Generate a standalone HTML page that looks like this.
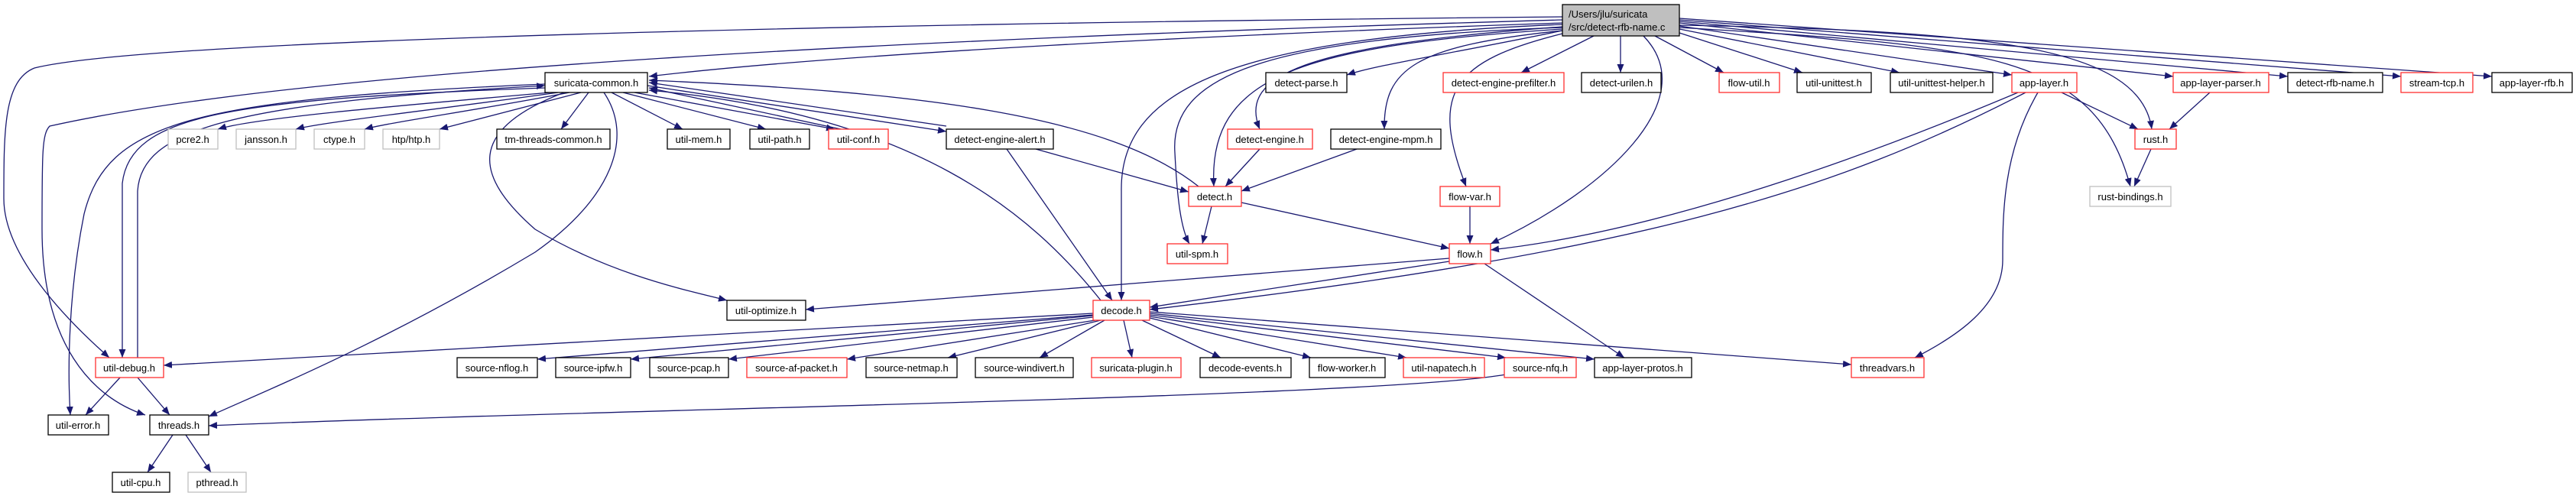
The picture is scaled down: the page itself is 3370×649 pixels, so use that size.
<!DOCTYPE html>
<html><head><meta charset="utf-8"><style>
html,body{margin:0;padding:0;background:#fff;}
svg{display:block;}
text{font-family:"Liberation Sans",Arial,sans-serif;font-size:13px;fill:#000;}
.e{fill:none;stroke:#191970;stroke-width:1.3;marker-end:url(#a);}
.n{fill:#fff;stroke:#000;stroke-width:1.3;}
.r{fill:#fff;stroke:#ff3030;stroke-width:1.3;}
.g{fill:#fff;stroke:#c0c0c0;stroke-width:1.3;}
</style></head><body>
<svg width="3370" height="649" viewBox="0 0 3370 649" xmlns="http://www.w3.org/2000/svg">
<defs><marker id="a" markerUnits="userSpaceOnUse" markerWidth="11" markerHeight="9" refX="11" refY="4.5" orient="auto"><path d="M0,0 L11,4.5 L0,9 z" fill="#191970"/></marker></defs>
<g>
<path class="e" d="M2044 22 C1200 30,200 50,45 89 C5 105,5 170,5 260 C5 340,100 430,143 468"/>
<path class="e" d="M2044 26 C1200 50,400 90,65 165 C55 175,55 200,55 300 C55 450,120 520,190 543"/>
<path class="e" d="M2044 30 C1600 45,1100 70,849 100"/>
<path class="e" d="M2044 40 C1900 70,1800 85,1762 98"/>
<path class="e" d="M2085 47 L1990 95"/>
<path class="e" d="M2120 47 L2120 95"/>
<path class="e" d="M2165 47 L2255 95"/>
<path class="e" d="M2197 43 L2358 95"/>
<path class="e" d="M2197 38 L2485 95"/>
<path class="e" d="M2197 34 L2632 98"/>
<path class="e" d="M2197 30 L2843 100"/>
<path class="e" d="M2197 28 L2993 100"/>
<path class="e" d="M2197 26 L3141 100"/>
<path class="e" d="M2197 24 L3260 100"/>
<path class="e" d="M2197 33 C2600 40,2800 60,2815 169"/>
<path class="e" d="M2197 36 C2600 60,2740 70,2787 244"/>
<path class="e" d="M2044 35 C1700 60,1620 100,1648 169"/>
<path class="e" d="M2044 40 C1850 60,1810 90,1811 169"/>
<path class="e" d="M2044 44 C1900 80,1870 120,1918 244"/>
<path class="e" d="M2150 47 C2230 130,2100 250,1950 319"/>
<path class="e" d="M2044 38 C1700 60,1580 100,1588 244"/>
<path class="e" d="M2044 36 C1650 50,1530 100,1537 200 C1540 260,1545 300,1556 319"/>
<path class="e" d="M2044 32 C1600 50,1465 120,1467 250 L1467 393"/>
<path class="e" d="M720 121 C500 140,330 155,285 169"/>
<path class="e" d="M730 121 C560 145,420 160,387 169"/>
<path class="e" d="M745 121 C620 145,510 160,477 169"/>
<path class="e" d="M760 121 L575 169"/>
<path class="e" d="M770 121 L734 169"/>
<path class="e" d="M800 121 L893 169"/>
<path class="e" d="M815 121 L1002 169"/>
<path class="e" d="M830 121 L1092 169"/>
<path class="e" d="M847 112 L1238 172"/>
<path class="e" d="M1238 165 L849 108"/>
<path class="e" d="M1100 169 L849 115"/>
<path class="e" d="M738 121 C610 170,620 230,700 300 C800 360,900 380,951 393"/>
<path class="e" d="M790 121 C830 180,800 260,700 330 C500 450,350 510,273 545"/>
<path class="e" d="M713 115 C300 130,170 150,160 240 L160 468"/>
<path class="e" d="M180 468 L180 250 C185 170,300 135,713 112"/>
<path class="e" d="M713 110 C250 130,140 160,110 280 C90 380,88 480,92 543"/>
<path class="e" d="M157 494 L112 543"/>
<path class="e" d="M180 494 L222 543"/>
<path class="e" d="M226 569 L193 618"/>
<path class="e" d="M243 569 L276 618"/>
<path class="e" d="M1355 195 L1555 251"/>
<path class="e" d="M1317 195 L1455 393"/>
<path class="e" d="M1568 244 C1450 150,1200 120,849 105"/>
<path class="e" d="M1440 393 C1350 280,1200 150,849 118"/>
<path class="e" d="M1648 195 L1603 244"/>
<path class="e" d="M1775 195 L1624 250"/>
<path class="e" d="M1585 270 L1573 319"/>
<path class="e" d="M1624 265 L1896 325"/>
<path class="e" d="M1923 270 L1923 319"/>
<path class="e" d="M1896 338 L1054 405"/>
<path class="e" d="M1896 342 L1504 402"/>
<path class="e" d="M1942 345 L2125 468"/>
<path class="e" d="M2640 121 C2500 180,2200 300,1950 327"/>
<path class="e" d="M2650 121 C2400 250,2150 330,1504 405"/>
<path class="e" d="M2697 121 L2797 169"/>
<path class="e" d="M2666 121 C2620 200,2620 280,2620 340 C2620 400,2560 440,2505 468"/>
<path class="e" d="M2891 121 L2838 169"/>
<path class="e" d="M2814 195 L2792 244"/>
<path class="e" d="M1430 410 L214 478"/>
<path class="e" d="M1430 412 L703 470"/>
<path class="e" d="M1430 413 L825 470"/>
<path class="e" d="M1430 415 L953 470"/>
<path class="e" d="M1433 419 L1108 470"/>
<path class="e" d="M1440 419 L1240 468"/>
<path class="e" d="M1445 419 L1360 468"/>
<path class="e" d="M1470 419 L1481 468"/>
<path class="e" d="M1494 419 L1597 468"/>
<path class="e" d="M1504 416 L1715 468"/>
<path class="e" d="M1504 414 L1840 468"/>
<path class="e" d="M1504 412 L1970 468"/>
<path class="e" d="M1504 410 L2086 470"/>
<path class="e" d="M1504 408 L2422 477"/>
<path class="e" d="M1970 490 C1800 520,800 535,273 557"/>
</g>
<g>
<rect x="2044" y="6" width="153" height="41" fill="#bfbfbf" stroke="#000" stroke-width="1.3"/>
<text x="2052" y="23">/Users/jlu/suricata</text>
<text x="2052" y="40">/src/detect-rfb-name.c</text>
</g>
<g text-anchor="middle">
<rect class="n" x="713" y="95" width="134" height="26"/><text x="780" y="113">suricata-common.h</text>
<rect class="n" x="1656" y="95" width="106" height="26"/><text x="1709" y="113">detect-parse.h</text>
<rect class="r" x="1888" y="95" width="158" height="26"/><text x="1967" y="113">detect-engine-prefilter.h</text>
<rect class="n" x="2069" y="95" width="104" height="26"/><text x="2121" y="113">detect-urilen.h</text>
<rect class="r" x="2249" y="95" width="79" height="26"/><text x="2288" y="113">flow-util.h</text>
<rect class="n" x="2351" y="95" width="97" height="26"/><text x="2399" y="113">util-unittest.h</text>
<rect class="n" x="2473" y="95" width="134" height="26"/><text x="2540" y="113">util-unittest-helper.h</text>
<rect class="r" x="2632" y="95" width="85" height="26"/><text x="2674" y="113">app-layer.h</text>
<rect class="r" x="2843" y="95" width="125" height="26"/><text x="2905" y="113">app-layer-parser.h</text>
<rect class="n" x="2993" y="95" width="124" height="26"/><text x="3055" y="113">detect-rfb-name.h</text>
<rect class="r" x="3141" y="95" width="94" height="26"/><text x="3188" y="113">stream-tcp.h</text>
<rect class="n" x="3260" y="95" width="105" height="26"/><text x="3312" y="113">app-layer-rfb.h</text>

<rect class="g" x="220" y="169" width="65" height="26"/><text x="252" y="187">pcre2.h</text>
<rect class="g" x="309" y="169" width="78" height="26"/><text x="348" y="187">jansson.h</text>
<rect class="g" x="411" y="169" width="66" height="26"/><text x="444" y="187">ctype.h</text>
<rect class="g" x="501" y="169" width="74" height="26"/><text x="538" y="187">htp/htp.h</text>
<rect class="n" x="650" y="169" width="148" height="26"/><text x="724" y="187">tm-threads-common.h</text>
<rect class="n" x="873" y="169" width="82" height="26"/><text x="914" y="187">util-mem.h</text>
<rect class="n" x="981" y="169" width="78" height="26"/><text x="1020" y="187">util-path.h</text>
<rect class="r" x="1084" y="169" width="78" height="26"/><text x="1123" y="187">util-conf.h</text>
<rect class="n" x="1238" y="169" width="140" height="26"/><text x="1308" y="187">detect-engine-alert.h</text>
<rect class="r" x="1606" y="169" width="111" height="26"/><text x="1661" y="187">detect-engine.h</text>
<rect class="n" x="1741" y="169" width="144" height="26"/><text x="1813" y="187">detect-engine-mpm.h</text>
<rect class="r" x="2793" y="169" width="54" height="26"/><text x="2820" y="187">rust.h</text>

<rect class="r" x="1555" y="244" width="69" height="26"/><text x="1589" y="262">detect.h</text>
<rect class="r" x="1884" y="244" width="78" height="26"/><text x="1923" y="262">flow-var.h</text>
<rect class="g" x="2734" y="244" width="106" height="26"/><text x="2787" y="262">rust-bindings.h</text>

<rect class="r" x="1527" y="319" width="79" height="26"/><text x="1566" y="337">util-spm.h</text>
<rect class="r" x="1896" y="319" width="54" height="26"/><text x="1923" y="337">flow.h</text>

<rect class="n" x="951" y="393" width="103" height="26"/><text x="1002" y="411">util-optimize.h</text>
<rect class="r" x="1430" y="393" width="74" height="26"/><text x="1467" y="411">decode.h</text>

<rect class="r" x="125" y="468" width="89" height="26"/><text x="169" y="486">util-debug.h</text>
<rect class="n" x="598" y="468" width="105" height="26"/><text x="650" y="486">source-nflog.h</text>
<rect class="n" x="727" y="468" width="98" height="26"/><text x="776" y="486">source-ipfw.h</text>
<rect class="n" x="850" y="468" width="103" height="26"/><text x="901" y="486">source-pcap.h</text>
<rect class="r" x="977" y="468" width="131" height="26"/><text x="1042" y="486">source-af-packet.h</text>
<rect class="n" x="1133" y="468" width="119" height="26"/><text x="1192" y="486">source-netmap.h</text>
<rect class="n" x="1276" y="468" width="128" height="26"/><text x="1340" y="486">source-windivert.h</text>
<rect class="r" x="1428" y="468" width="117" height="26"/><text x="1486" y="486">suricata-plugin.h</text>
<rect class="n" x="1570" y="468" width="119" height="26"/><text x="1629" y="486">decode-events.h</text>
<rect class="n" x="1713" y="468" width="99" height="26"/><text x="1762" y="486">flow-worker.h</text>
<rect class="r" x="1836" y="468" width="106" height="26"/><text x="1889" y="486">util-napatech.h</text>
<rect class="r" x="1968" y="468" width="94" height="26"/><text x="2015" y="486">source-nfq.h</text>
<rect class="n" x="2086" y="468" width="127" height="26"/><text x="2149" y="486">app-layer-protos.h</text>
<rect class="r" x="2422" y="468" width="95" height="26"/><text x="2469" y="486">threadvars.h</text>

<rect class="n" x="63" y="543" width="79" height="26"/><text x="102" y="561">util-error.h</text>
<rect class="n" x="196" y="543" width="77" height="26"/><text x="234" y="561">threads.h</text>

<rect class="n" x="147" y="618" width="75" height="26"/><text x="184" y="636">util-cpu.h</text>
<rect class="g" x="246" y="618" width="76" height="26"/><text x="284" y="636">pthread.h</text>
</g>
</svg>
</body></html>
